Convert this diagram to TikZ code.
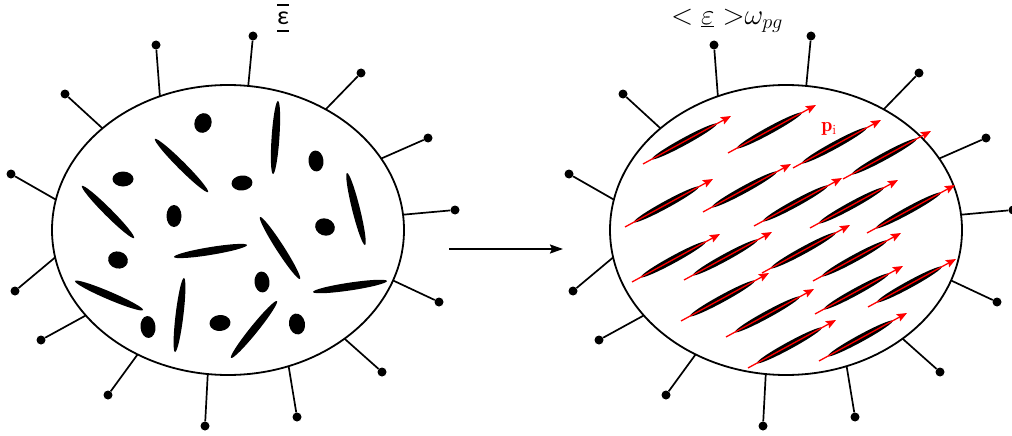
\RequirePackage{fix-cm}
\documentclass[tikz,border=0pt]{standalone}
\usepackage{fontspec}
\newfontfamily\carlito{Carlito}
\usetikzlibrary{arrows.meta,shapes.geometric,calc}
\begin{document}
\begin{tikzpicture}[x=1pt,y=-1pt,
  cell/.style={ellipse, draw, line width=1.8pt, minimum width=352pt, minimum height=290pt, inner sep=0pt, outer sep=0pt},
  dotnode/.style={circle, fill=black, inner sep=0pt, minimum size=9pt},
  spike/.style={line width=1.7pt},
  flow/.style={line width=1.8pt, -{Stealth[length=13pt,width=9pt,inset=2pt]}},
  pol/.style={red, line width=1.3pt, -{Stealth[length=10pt,width=8pt,inset=1.5pt]}},
  lbl/.style={inner sep=0pt, font=\fontsize{29}{31}\selectfont}
]
\useasboundingbox (0,0) rectangle (1012,436);

\node[cell] (L) at (228,230) {};
\node[cell] (R) at (786,230) {};

% spikes with ball ends
\foreach \a/\x/\y [count=\i] in {117.1/156/45, 82.5/253/36, 51.2/361/73, 25.8/428/138,
   5.9/455/210, -17.5/439/302, -43.7/382/372, -66.0/297/417, 262.5/205/426,
   234.5/108/395, 211.3/41/340, 189.8/15/291, 170.2/11/174, 141.4/65/94}{
  \node[dotnode] (dL\i) at (\x,\y) {};
  \node[dotnode] (dR\i) at (\x+558,\y) {};
  \draw[spike] (L.\a) -- (dL\i);
  \draw[spike] (R.\a) -- (dR\i);
}

% left: random particles (round blobs)
\foreach \cx/\cy/\ra/\rb/\an in {203/123/10/8.5/70, 123/179/10.5/7.5/0, 242/183/10.5/7.5/5,
   316/161/10.5/7.5/95, 174/216/11/7.5/90, 325/227/10/8.5/-20, 118/260/10/8.5/-15,
   262/282/10.5/7.5/95, 148/327/11/7.5/95, 220/323/10.5/8/5, 297/324/10.5/8/100}{
  \fill[rotate around={\an:(\cx,\cy)}] (\cx,\cy) ellipse ({\ra pt} and {\rb pt});
}
% left: random needles
\foreach \cx/\cy/\ra/\an in {181.5/165.5/37.5/-45, 275.5/137.5/36.6/86.1, 108/212/36.8/-45,
   356/209/37.1/-76, 210.5/251/37/9.3, 280/248/36.9/-57.2, 109/295.5/37/-23.1,
   350/286.5/37.4/8.5, 179.5/315/37.3/83.1, 254/329.5/36.6/51.1}{
  \fill[rotate around={\an:(\cx,\cy)}] (\cx,\cy) ellipse ({\ra pt} and 3.9pt);
}

% right: aligned needles with polarisation arrows
\foreach \x/\y [count=\i] in {643/164, 728/153, 793/168, 843/179, 625/227, 703/212, 754/226,
   810/228, 867/233, 632/282, 684/280, 762/273, 813/281, 681/321, 726/337, 815/314,
   868/307, 748/368, 819/361}{
  \coordinate (t\i) at (\x,\y);
  \coordinate (h\i) at (\x+88,\y-48);
  \coordinate (c\i) at ($(t\i)!0.47!(h\i)$);
  \fill[rotate around={28.6:(c\i)}] (c\i) ellipse (37pt and 3.6pt);
  \draw[pol] (t\i) -- (h\i);
}

\node[red, inner sep=0pt, font=\fontsize{20}{22}\selectfont] (pl) at (829,129) {$\mathbf{p}_{\mathrm{i}}$};

% labels
\node[inner sep=0pt] (eL) at (283,18) {\vbox{\hrule height 2pt width 12pt\kern 6pt
  \hbox to 12pt{\hss\fontsize{26}{26}\selectfont\carlito ε\hss}\kern 5pt\hrule height 2pt width 12pt}};
\node[lbl] (eR) at (727,21) {$\mathord{<}\;\underline{\varepsilon}\;\mathord{>}\omega_{pg}$};

% transformation arrow
\coordinate (a1) at (449,249);
\coordinate (a2) at (563,249);
\draw[flow] (a1) -- (a2);
\end{tikzpicture}
\end{document}
